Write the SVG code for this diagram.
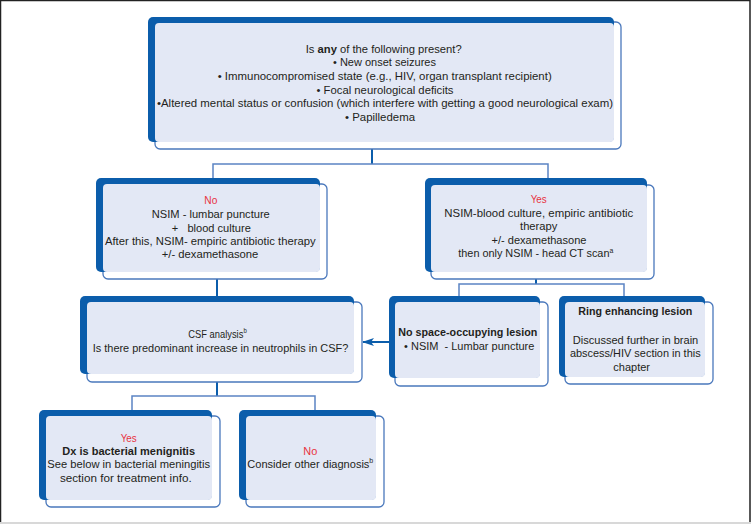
<svg xmlns="http://www.w3.org/2000/svg" width="751" height="524" viewBox="0 0 751 524">
<defs>
<style>
.ol{fill:#ffffff;stroke:#4a78bc;stroke-width:1.3}
.dk{fill:#0b5dab}
.lt{fill:#e3e8f5}
text{font-family:"Liberation Sans",Arial,sans-serif;font-size:11px;fill:#231f20;text-anchor:middle}
.b{font-weight:bold}
.r{fill:#e8323e}
.sup{font-size:7px}
.stem{stroke:#0b5dab;stroke-width:2;fill:none}
.br{stroke:#5b84c4;stroke-width:1.5;fill:none}
</style>
<marker id="ah" markerWidth="12" markerHeight="8" refX="11" refY="4" orient="auto" markerUnits="userSpaceOnUse">
<path d="M0,0 L12,4 L0,8 L3,4 Z" fill="#0b5dab"/>
</marker>
</defs>
<rect x="0" y="0" width="751" height="524" fill="#ffffff"/>
<path d="M0.5,524 V0.5 H750 V524" fill="none" stroke="#222222" stroke-width="1.5"/>
<rect x="0" y="522" width="751" height="2" fill="#d8d8d8"/>

<g id="connectors">
<path class="stem" d="M372,149 V164"/>
<path class="br" d="M213,178 V164 H548 V178"/>
<path class="stem" d="M217,279 V296"/>
<path class="stem" d="M536,279 V284"/>
<path class="br" d="M459,296 V284 H624 V296"/>
<path class="stem" d="M389,342 H363" marker-end="url(#ah)"/>
<path class="stem" d="M217,382 V396"/>
<path class="br" d="M132,410 V396 H315 V410"/>
</g>

<g id="n-top">
<rect class="ol" x="155" y="22" width="466" height="127" rx="5"/>
<rect class="dk" x="148" y="17" width="466" height="125" rx="5"/>
<rect class="lt" x="155" y="23" width="459" height="119" rx="4"/>
<text x="383.7" y="52.7" textLength="156" lengthAdjust="spacingAndGlyphs">Is <tspan class="b">any</tspan> of the following present?</text>
<text x="384.5" y="66.3" textLength="103" lengthAdjust="spacingAndGlyphs">• New onset seizures</text>
<text x="384.7" y="80" textLength="334" lengthAdjust="spacingAndGlyphs">• Immunocompromised state (e.g., HIV, organ transplant recipient)</text>
<text x="385" y="93.5" textLength="137" lengthAdjust="spacingAndGlyphs">• Focal neurological deficits</text>
<text x="385" y="107.3" textLength="456" lengthAdjust="spacingAndGlyphs">•Altered mental status or confusion (which interfere with getting a good neurological exam)</text>
<text x="380" y="120.8" textLength="70" lengthAdjust="spacingAndGlyphs">• Papilledema</text>
</g>

<g id="n-no">
<rect class="ol" x="103" y="184" width="224" height="95" rx="5"/>
<rect class="dk" x="96" y="178" width="224" height="94" rx="5"/>
<rect class="lt" x="103" y="184" width="217" height="88" rx="4"/>
<text class="r" x="210.8" y="204.3" textLength="13" lengthAdjust="spacingAndGlyphs">No</text>
<text x="210.8" y="218.3" textLength="118" lengthAdjust="spacingAndGlyphs">NSIM - lumbar puncture</text>
<text x="211.3" y="231.7" textLength="79" lengthAdjust="spacingAndGlyphs">+&#160;&#160; blood culture</text>
<text x="210.3" y="245" textLength="210.7" lengthAdjust="spacingAndGlyphs">After this, NSIM- empiric antibiotic therapy</text>
<text x="210" y="258.3" textLength="96.6" lengthAdjust="spacingAndGlyphs">+/- dexamethasone</text>
</g>

<g id="n-yes">
<rect class="ol" x="431" y="185" width="223" height="94" rx="5"/>
<rect class="dk" x="425" y="178" width="222" height="94" rx="5"/>
<rect class="lt" x="431" y="185" width="216" height="87" rx="4"/>
<text class="r" x="538.7" y="203.3" textLength="16" lengthAdjust="spacingAndGlyphs">Yes</text>
<text x="538.8" y="216.7" textLength="189" lengthAdjust="spacingAndGlyphs">NSIM-blood culture, empiric antibiotic</text>
<text x="538.7" y="230" textLength="37.3" lengthAdjust="spacingAndGlyphs">therapy</text>
<text x="539" y="244" textLength="95" lengthAdjust="spacingAndGlyphs">+/- dexamethasone</text>
<text x="535.8" y="257.3" textLength="155" lengthAdjust="spacingAndGlyphs">then only NSIM - head CT scan<tspan class="sup" dy="-4">a</tspan></text>
</g>

<g id="n-csf">
<rect class="ol" x="87" y="302" width="275" height="80" rx="5"/>
<rect class="dk" x="80" y="296" width="274" height="78" rx="5"/>
<rect class="lt" x="87" y="302" width="267" height="72" rx="4"/>
<text x="217.5" y="338.3" textLength="58.4" lengthAdjust="spacingAndGlyphs">CSF analysis<tspan class="sup" dy="-5">b</tspan></text>
<text x="220.5" y="351.5" textLength="255.6" lengthAdjust="spacingAndGlyphs">Is there predominant increase in neutrophils in CSF?</text>
</g>

<g id="n-nospace">
<rect class="ol" x="395" y="302" width="153" height="84" rx="5"/>
<rect class="dk" x="389" y="296" width="151" height="82" rx="5"/>
<rect class="lt" x="395" y="302" width="145" height="76" rx="4"/>
<text class="b" x="467.8" y="336" textLength="139" lengthAdjust="spacingAndGlyphs">No space-occupying lesion</text>
<text x="469.2" y="350" textLength="130.3" lengthAdjust="spacingAndGlyphs">• NSIM&#160; - Lumbar puncture</text>
</g>

<g id="n-ring">
<rect class="ol" x="565" y="302" width="148" height="82" rx="5"/>
<rect class="dk" x="559" y="296" width="146" height="81" rx="5"/>
<rect class="lt" x="565" y="302" width="140" height="75" rx="4"/>
<text class="b" x="635.3" y="315" textLength="114" lengthAdjust="spacingAndGlyphs">Ring enhancing lesion</text>
<text x="635.5" y="344" textLength="125.6" lengthAdjust="spacingAndGlyphs">Discussed further in brain</text>
<text x="635.3" y="357.3" textLength="130.7" lengthAdjust="spacingAndGlyphs">abscess/HIV section in this</text>
<text x="631.7" y="370.7" textLength="36.7" lengthAdjust="spacingAndGlyphs">chapter</text>
</g>

<g id="n-byes">
<rect class="ol" x="46" y="416" width="174" height="91" rx="5"/>
<rect class="dk" x="39" y="410" width="173" height="90" rx="5"/>
<rect class="lt" x="46" y="416" width="166" height="84" rx="4"/>
<text class="r" x="128.7" y="441.7" textLength="16" lengthAdjust="spacingAndGlyphs">Yes</text>
<text class="b" x="128.7" y="454.5" textLength="132.7" lengthAdjust="spacingAndGlyphs">Dx is bacterial menignitis</text>
<text x="128.7" y="468.3" textLength="162.7" lengthAdjust="spacingAndGlyphs">See below in bacterial meningitis</text>
<text x="125.8" y="481.7" textLength="131.7" lengthAdjust="spacingAndGlyphs">section for treatment info.</text>
</g>

<g id="n-bno">
<rect class="ol" x="246" y="416" width="138" height="91" rx="5"/>
<rect class="dk" x="239" y="410" width="137" height="90" rx="5"/>
<rect class="lt" x="246" y="416" width="130" height="84" rx="4"/>
<text class="r" x="310.3" y="454.5" textLength="14" lengthAdjust="spacingAndGlyphs">No</text>
<text x="310.3" y="468.3" textLength="126" lengthAdjust="spacingAndGlyphs">Consider other diagnosis<tspan class="sup" dy="-5">b</tspan></text>
</g>
</svg>
